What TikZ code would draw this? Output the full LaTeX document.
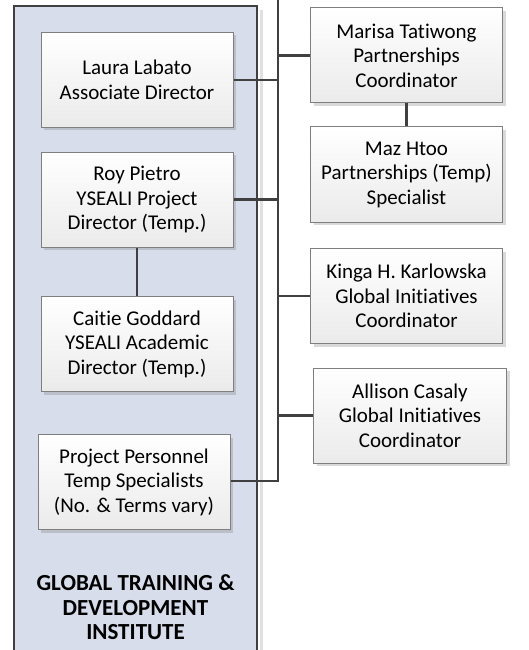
\documentclass[tikz,border=0pt]{standalone}
\usepackage{fontspec}
\setmainfont{Carlito}[Ligatures=NoCommon]
\usetikzlibrary{shadows}
\definecolor{linecol}{HTML}{404040}
\definecolor{boxborder}{HTML}{7F7F7F}
\definecolor{contfill}{HTML}{D7DDEB}
\begin{document}
\begin{tikzpicture}[x=1pt,y=-1pt,
  person/.style={draw=boxborder, line width=1pt, top color=white, bottom color=black!8,
    minimum width=192pt, minimum height=95pt, align=center, inner sep=0pt,
    font=\fontsize{21}{24.5}\selectfont,
    drop shadow={shadow xshift=3pt, shadow yshift=-3pt, opacity=0.25, fill=black!60}},
  conn/.style={draw=linecol, line width=2.2pt}]
\useasboundingbox (0,0) rectangle (529,650);
\begin{scope}
\clip (0,0) rectangle (529,650);
% container shadow and body
\fill[black!12] (260,10) rectangle (263,660);
\draw[draw=linecol, fill=contfill, line width=2.8pt] (14,6) rectangle (257,670);
\node[font=\bfseries\fontsize{23}{24.5}\selectfont, align=center] (title) at (135.5,607.5)
  {GLOBAL TRAINING \&\\DEVELOPMENT\\INSTITUTE};
% boxes
\node[person] (laura) at (137,80) {Laura Labato\\Associate Director};
\node[person] (roy) at (137,199.5) {Roy Pietro\\YSEALI Project\\Director (Temp.)};
\node[person] (caitie) at (137,344) {Caitie Goddard\\YSEALI Academic\\Director (Temp.)};
\node[person] (proj) at (134,482) {Project Personnel\\Temp Specialists\\(No. \& Terms vary)};
\node[person] (marisa) at (406.5,55.5) {Marisa Tatiwong\\Partnerships\\Coordinator};
\node[person] (maz) at (406.5,174.5) {Maz Htoo\\Partnerships (Temp)\\Specialist};
\node[person] (kinga) at (406.5,296) {Kinga H. Karlowska\\Global Initiatives\\Coordinator};
\node[person, minimum width=193pt] (allison) at (410,415.5) {Allison Casaly\\Global Initiatives\\Coordinator};
% trunk
\coordinate (top) at (278,-5);
\coordinate (bend) at (278,481);
\draw[conn] (top) -- (bend) -- (proj.east |- bend);
\draw[conn] (laura.east) -- (laura.east -| bend);
\draw[conn] (roy.east) -- (roy.east -| bend);
\draw[conn] (marisa.west) -- (marisa.west -| bend);
\draw[conn] (kinga.west) -- (kinga.west -| bend);
\draw[conn] (allison.west) -- (allison.west -| bend);
\draw[conn] (roy.south) -- (caitie.north);
\draw[conn] (marisa.south) -- (maz.north);
\end{scope}
\end{tikzpicture}
\end{document}
